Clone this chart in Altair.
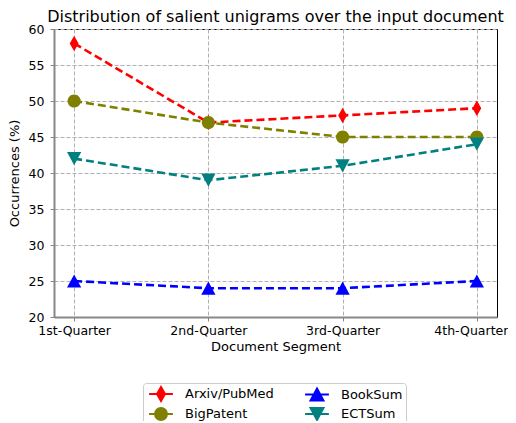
import altair as alt
import pandas as pd

segments = ["1st-Quarter", "2nd-Quarter", "3rd-Quarter", "4th-Quarter"]
series_names = ["Arxiv/PubMed", "BigPatent", "BookSum", "ECTSum"]
arxiv = [58, 47, 48, 49]
bigpatent = [50, 47, 45, 45]
booksum = [25, 24, 24, 25]
ectsum = [42, 39, 41, 44]
colors = ["#ff0000", "#808000", "#0000ff", "#008080"]
y_ticks = [20, 25, 30, 35, 40, 45, 50, 55, 60]

values = [arxiv, bigpatent, booksum, ectsum]
rows = []
for name, vals in zip(series_names, values):
    for i, (seg, v) in enumerate(zip(segments, vals)):
        rows.append({"series": name, "segment": seg, "idx": i, "value": v})
df = pd.DataFrame(rows)

# marker paths (plot), in [-1,1] units
marker_paths = [
    "M0,-1L0.57,0L0,1L-0.57,0Z",
    "M0.85,0A0.85,0.85 0 1,1 -0.85,0A0.85,0.85 0 1,1 0.85,0Z",
    "M0,-0.85L0.92,0.85L-0.92,0.85Z",
    "M0,0.85L0.92,-0.85L-0.92,-0.85Z",
]
# legend paths: line + marker (symbol size 196 -> 1 unit = 7px)
legend_paths = [
    "M-1.7,0L1.7,0M0,-1L0.57,0L0,1L-0.57,0Z",
    "M-1.7,0L1.7,0M0.85,0A0.85,0.85 0 1,1 -0.85,0A0.85,0.85 0 1,1 0.85,0Z",
    "M-1.7,0L1.7,0M0,-0.85L0.92,0.85L-0.92,0.85Z",
    "M-1.7,0L1.7,0M0,0.85L0.92,-0.85L-0.92,-0.85Z",
]

label_expr = "datum.value == 0 ? '1st-Quarter' : datum.value == 1 ? '2nd-Quarter' : datum.value == 2 ? '3rd-Quarter' : '4th-Quarter'"

x = alt.X(
    "idx:Q",
    scale=alt.Scale(domain=[-0.15, 3.15], nice=False, zero=False),
    axis=alt.Axis(
        title="Document Segment",
        values=[0, 1, 2, 3],
        labelExpr=label_expr,
        grid=True,
        labelOffset={"condition": {"test": "datum.value == 3", "value": -6}, "value": 0},
    ),
)
y = alt.Y(
    "value:Q",
    scale=alt.Scale(domain=[20, 60], nice=False, zero=False),
    axis=alt.Axis(title="Occurrences (%)", values=y_ticks, grid=True),
)

# colour scale for the drawn marks: domain from the data (sorted = series order)
color_scale = alt.Scale(range=colors)

base = alt.Chart(df)

lines = base.mark_line(strokeWidth=2.6, strokeDash=[8, 4]).encode(
    x=x, y=y,
    color=alt.Color("series:N", scale=color_scale, legend=None),
)

point_layers = []
for name, path in zip(series_names, marker_paths):
    point_layers.append(
        base.transform_filter(alt.datum.series == name)
        .mark_point(filled=True, opacity=1, size=240, shape=path)
        .encode(
            x=x, y=y,
            color=alt.Color("series:N", scale=color_scale, legend=None),
        )
    )

leg = alt.Legend(
    title=None,
    orient="none",
    legendX=89,
    legendY=354,
    columns=2,
    direction="vertical",
    fillColor="white",
    strokeColor="#cccccc",
    cornerRadius=3,
    padding=3,
    symbolSize=196,
    symbolOffset=7,
    symbolStrokeWidth=2,
    symbolOpacity=1,
    labelFontSize=13,
    labelFont="DejaVu Sans",
    labelColor="black",
    labelOffset=16,
    columnPadding=27,
    rowPadding=-1,
)

leg_scale = alt.Scale(domain=series_names, range=colors)
legend_layer = base.mark_point(filled=True, opacity=0).encode(
    x=x, y=y,
    fill=alt.Fill("series:N", scale=leg_scale, legend=leg),
    stroke=alt.Stroke("series:N", scale=leg_scale, legend=leg),
    shape=alt.Shape("series:N", scale=alt.Scale(domain=series_names, range=legend_paths), legend=leg),
)

chart = (
    alt.layer(lines, *point_layers, legend_layer)
    .properties(
        width=443,
        height=288,
        title=alt.TitleParams(
            "Distribution of salient unigrams over the input document",
            fontSize=16,
            font="DejaVu Sans",
            fontWeight="normal",
            color="black",
            anchor="middle",
            offset=-2,
        ),
        autosize=alt.AutoSizeParams(type="none"),
        padding={"left": 46, "top": 21, "right": 11, "bottom": 104},
    )
    .configure_view(stroke="black", strokeWidth=1)
    .configure_axis(
        labelFont="DejaVu Sans",
        labelFontSize=12.5,
        labelColor="black",
        titleFont="DejaVu Sans",
        titleFontSize=13,
        titleFontWeight="normal",
        titleColor="black",
        domainColor="#888888",
        domainWidth=2,
        tickColor="#888888",
        tickSize=4,
        tickWidth=1,
        gridColor="#b0b0b0",
        gridDash=[4, 2],
        gridWidth=1,
    )
    .configure_axisY(titlePadding=7, labelPadding=6)
    .configure_axisX(titlePadding=4, labelPadding=3)
)

chart.save("out.html", embed_options={"renderer": "svg", "actions": False})
